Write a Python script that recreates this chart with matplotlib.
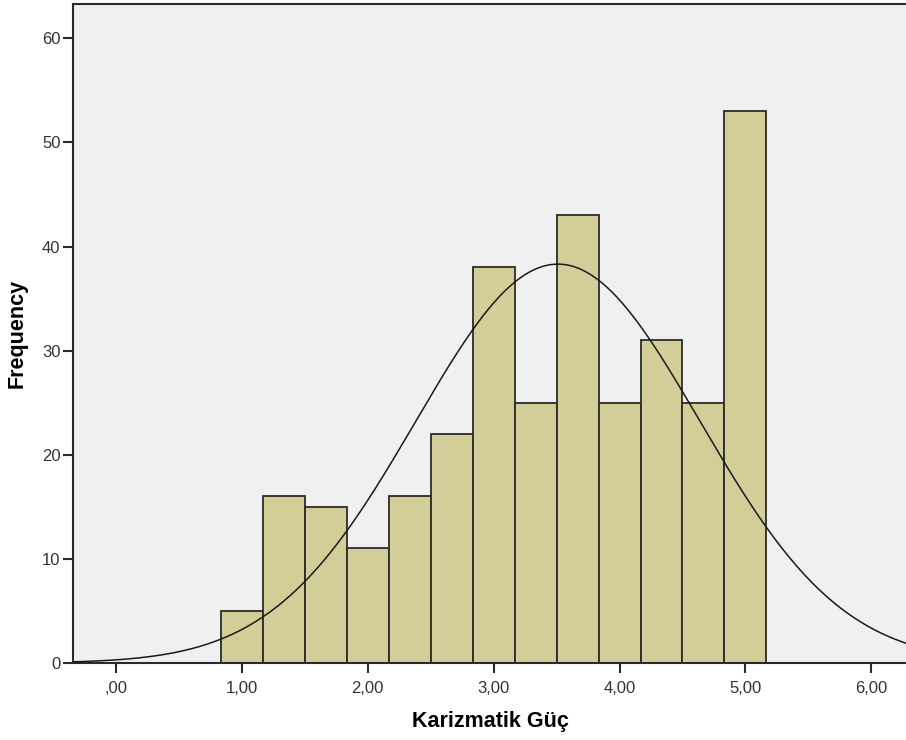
import matplotlib

matplotlib.use("Agg")
import matplotlib.pyplot as plt
import numpy as np

# histogram of Karizmatik Güç, bins of width 1/3 centred on 1.00 ... 5.00
bin_centers = [1.0, 4 / 3, 5 / 3, 2.0, 7 / 3, 8 / 3, 3.0, 10 / 3, 11 / 3, 4.0, 13 / 3, 14 / 3, 5.0]
counts = [5, 16, 15, 11, 16, 22, 38, 25, 43, 25, 31, 25, 53]
bin_width = 1 / 3
curve_mean = 3.51
curve_sd = 1.128
x_ticks = [0, 1, 2, 3, 4, 5, 6]
x_tick_labels = [",00", "1,00", "2,00", "3,00", "4,00", "5,00", "6,00"]
y_ticks = [0, 10, 20, 30, 40, 50, 60]

plt.rcParams["font.family"] = ["Liberation Sans", "DejaVu Sans"]

fig = plt.figure(figsize=(9.06, 7.40), dpi=100)
ax = fig.add_axes([73 / 906, 1 - 663 / 740, 1 - 73 / 906 + 0.002, (663 - 4) / 740])
ax.set_facecolor("#f0f0f0")

ax.bar(bin_centers, counts, width=bin_width, color="#d3ce97",
       edgecolor="#2b2b2b", linewidth=1.3, zorder=2)

# normal curve scaled to the counts
n_total = sum(counts)
xs = np.linspace(-0.4, 6.4, 600)
ys = n_total * bin_width / (curve_sd * np.sqrt(2 * np.pi)) * np.exp(-0.5 * ((xs - curve_mean) / curve_sd) ** 2)
ax.plot(xs, ys, color="#1a1a1a", linewidth=1.1, zorder=3)

ax.set_xlim(-0.342, 6.29)
ax.set_ylim(0, 63.3)
ax.set_xticks(x_ticks)
ax.set_xticklabels(x_tick_labels)
ax.set_yticks(y_ticks)

for side in ["left", "bottom", "top"]:
    ax.spines[side].set_color("#2b2b2b")
    ax.spines[side].set_linewidth(1.5)
ax.spines["right"].set_visible(False)

ax.tick_params(axis="both", direction="out", length=7, width=1.5, color="#2b2b2b",
               labelsize=12, labelcolor="#333333", pad=6)
ax.tick_params(axis="y", pad=2)

ax.set_xlabel("Karizmatik Güç", fontsize=15.5, fontweight="bold", labelpad=11)
ax.set_ylabel("Frequency", fontsize=15.5, fontweight="bold", labelpad=10)

fig.savefig("out.png", dpi=100, facecolor="white")
